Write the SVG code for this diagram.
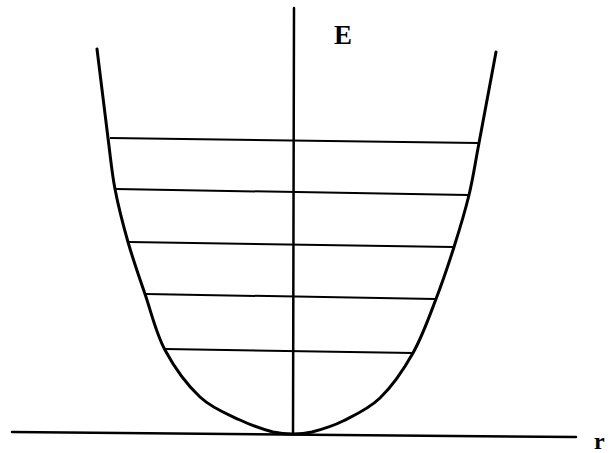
<svg xmlns="http://www.w3.org/2000/svg" width="611" height="453" viewBox="0 0 611 453">
<style>
.lbl{font-family:"Liberation Serif","Times New Roman",serif;font-size:24px;fill:#000;font-weight:bold}
.big{font-size:27px}
.ax{stroke:#000;stroke-width:2.5;fill:none;stroke-linecap:round}
.lv{stroke:#000;stroke-width:2;fill:none}
.cv{stroke:#000;stroke-width:3;fill:none;stroke-linecap:round}
</style>
<rect width="611" height="453" fill="#fff"/>
<g id="connectors">
<line id="r-axis" class="ax" x1="12" y1="432" x2="576" y2="437"/>
<line id="e-axis" class="ax" x1="294" y1="8" x2="293" y2="434"/>
</g>
<g id="potential">
<path class="cv" d="M97,49 C100.7,78.7 105,114.7 108,138 C111,161.3 111.7,171.7 115,189 C118.3,206.3 123,224.5 128,242 C133,259.5 138.8,276 145,294 C151.2,312 155.8,332.8 165,350 C174.2,367.2 187.5,385.3 200,397 C212.5,408.7 227.8,414.2 240,420 C252.2,425.8 264.2,429.7 273,432 C281.8,433.9 286.5,434 293,434 C299.5,434 303.7,434 312,432 C320.3,429.8 331.7,426.7 343,421 C354.3,415.3 368.3,409.3 380,398 C391.7,386.7 403.7,369.5 413,353 C422.3,336.5 429.2,316.7 436,299 C442.8,281.3 448.5,264.3 454,247 C459.5,229.7 464.8,212.3 469,195 C473.2,177.7 474.5,166.8 479,143 C483.5,119.2 490.3,82.3 496,52"/>
</g>
<g id="levels">
<line class="lv" x1="110" y1="138" x2="478" y2="143"/>
<line class="lv" x1="116" y1="189" x2="468" y2="195"/>
<line class="lv" x1="129" y1="242" x2="453" y2="247"/>
<line class="lv" x1="146" y1="294" x2="435" y2="299"/>
<line class="lv" x1="165" y1="349" x2="413" y2="353"/>
</g>
<g id="label-E"><text class="lbl big" x="334" y="44">E</text></g>
<g id="label-r"><text class="lbl" x="594" y="449">r</text></g>
</svg>
